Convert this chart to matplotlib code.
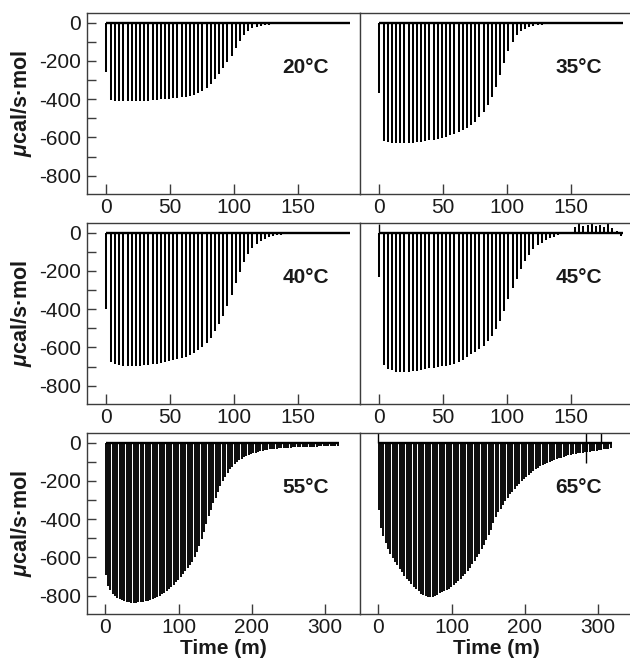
import matplotlib
matplotlib.use('Agg')
import matplotlib.pyplot as plt
import numpy as np

plt.rcParams['font.family'] = ['Liberation Sans', 'DejaVu Sans']
plt.rcParams['axes.unicode_minus'] = False
plt.rcParams['mathtext.fontset'] = 'custom'
plt.rcParams['mathtext.it'] = 'Liberation Sans:italic:bold'
plt.rcParams['mathtext.rm'] = 'Liberation Sans:bold'

# ---------------- data ----------------
panel_labels = ['20°C', '35°C', '40°C', '45°C', '55°C', '65°C']

# injection schedule (min): first (small) injection, then regular injections
first_time = [0.4, 0.5, 0.3, 0.5, 0.5, 0.5]
reg_start = [4.1, 3.9, 4.1, 3.9, 3.7, 3.7]
reg_interval = [3.25, 3.25, 3.25, 3.25, 3.2, 3.2]

# peak heats (ucal/s/mol): first injection then regular injections
heat_20 = [-256,
           -405, -410, -412, -412, -412, -411, -410, -409, -408, -407,
           -405, -403, -401, -399, -397, -395, -392, -389, -386, -382,
           -376, -368, -356, -340, -320, -296, -268, -236, -205, -172,
           -135, -98, -64, -42, -29, -21, -16, -13, -11, -10,
           -9, -8, -8, -7, -7, -6, -6, -6, -5, -5,
           -5, -5, -5, -4, -4, -4, -4, -4]
heat_35 = [-369,
           -620, -626, -629, -630, -630, -630, -629, -627, -625, -622,
           -619, -615, -611, -606, -601, -595, -588, -581, -573, -563,
           -551, -536, -517, -494, -466, -432, -390, -338, -276, -210,
           -150, -102, -66, -44, -31, -23, -18, -14, -12, -10,
           -9, -8, -8, -7, -7, -6, -6, -6, -5, -5,
           -5, -5, -5, -4, -4, -4, -4, -4]
heat_40 = [-399,
           -674, -686, -690, -694, -697, -697, -696, -694, -692, -690,
           -687, -684, -681, -677, -672, -667, -662, -656, -648, -639,
           -630, -615, -596, -575, -548, -515, -478, -433, -382, -327,
           -262, -205, -155, -112, -80, -58, -43, -32, -24, -19,
           -15, -12, -10, -9, -8, -7, -6, -6, -5, -5,
           -5, -5, -4, -4, -4, -4, -4, -4]
heat_45 = [-230,
           -692, -710, -720, -727, -730, -729, -727, -724, -721, -717,
           -713, -709, -705, -701, -698, -695, -691, -685, -677, -664,
           -650, -636, -621, -607, -590, -565, -540, -505, -462, -410,
           -345, -290, -240, -190, -148, -115, -87, -66, -52, -40,
           -30, -21, -14, -10, -8, -5, 30, 45, 35, 40,
           48, 35, 42, 30, 45, 25, 10, -20]
heat_55 = [-690,
           -748, -770, -790, -801, -810, -818, -824, -829, -832, -834,
           -835, -835, -835, -834, -833, -831, -829, -826, -822, -818,
           -812, -806, -799, -792, -784, -775, -765, -755, -743, -730,
           -716, -702, -688, -673, -657, -640, -622, -600, -572, -540,
           -505, -467, -425, -385, -350, -318, -287, -257, -228, -200,
           -180, -160, -140, -127, -114, -101, -92, -84, -77, -71,
           -65, -60, -56, -52, -48, -45, -42, -40, -38, -36,
           -34, -33, -32, -30, -29, -28, -27, -27, -26, -25,
           -25, -24, -24, -23, -23, -22, -22, -21, -21, -21,
           -20, -20, -20, -19, -19, -19, -18, -18, -18]
heat_65 = [-350,
           -445, -488, -525, -556, -580, -602, -622, -641, -660, -678,
           -695, -710, -724, -738, -752, -765, -777, -788, -796, -802,
           -806, -808, -806, -801, -794, -787, -781, -775, -768, -762,
           -754, -745, -735, -724, -712, -698, -684, -669, -653, -636,
           -618, -600, -580, -558, -535, -510, -484, -455, -420, -390,
           -365, -345, -325, -305, -287, -271, -256, -242, -228, -215,
           -202, -190, -178, -167, -157, -148, -139, -131, -124, -117,
           -111, -105, -99, -95, -90, -86, -83, -79, -75, -71,
           -67, -64, -61, -59, -57, -54, -52, -50, -48, -47,
           -45, -44, -42, -40, -38, -36, -34, -32, -30]
heats = [heat_20, heat_35, heat_40, heat_45, heat_55, heat_65]

# baseline artifacts (time, low, high)
artifact_time = {3: [0.2], 5: [0.2, 284.0, 304.5]}
artifact_low = {3: [0], 5: [0, -105, 0]}
artifact_high = {3: [45], 5: [60, 60, 60]}

yticks_major = [0, -200, -400, -600, -800]
yticks_minor = [-100, -300, -500, -700]
xticks_short = [0, 50, 100, 150]
xticks_long = [0, 100, 200, 300]

# ---------------- figure ----------------
W, H = 630, 662
fig = plt.figure(figsize=(W / 100, H / 100), dpi=100)

col_x = [87, 360]
row_top = [13, 223, 433]
ax_w, ax_h = 273, 181
spine_col = '#3c3c3c'

for i in range(6):
    r, c = divmod(i, 2)
    left = col_x[c] / W
    bottom = 1 - (row_top[r] + ax_h) / H
    ax = fig.add_axes([left, bottom, ax_w / W, ax_h / H])

    h = heats[i]
    times = [first_time[i]] + [reg_start[i] + reg_interval[i] * k for k in range(len(h) - 1)]
    lw = 1.45 if r < 2 else 1.35
    ax.vlines(times, h, 0, colors='black', linewidth=lw)
    ax.plot([times[0], times[-1] + 1.5], [0, 0], color='black', linewidth=1.7,
            solid_capstyle='butt')
    if i in artifact_time:
        ax.vlines(artifact_time[i], artifact_low[i], artifact_high[i],
                  colors='black', linewidth=1.0)

    ax.set_ylim(-895, 50)
    if r < 2:
        ax.set_xlim(-14.6, 198.7)
        ax.set_xticks(xticks_short)
    else:
        ax.set_xlim(-25, 347.8)
        ax.set_xticks(xticks_long)

    for s in ['top', 'bottom', 'left']:
        ax.spines[s].set_color(spine_col)
        ax.spines[s].set_linewidth(1.0)
    ax.spines['right'].set_visible(c == 0)
    ax.spines['right'].set_color(spine_col)

    ax.tick_params(axis='x', direction='in', length=7.5, width=1.0, color=spine_col,
                   labelsize=15, pad=3, labelcolor='#1a1a1a', top=False)
    if c == 0:
        ax.set_yticks(yticks_major)
        ax.set_yticks(yticks_minor, minor=True)
        ax.tick_params(axis='y', which='both', direction='in', length=6.7, width=1.0,
                       color=spine_col, labelsize=15, pad=4.3, labelcolor='#1a1a1a',
                       right=False)
        ax.set_ylabel(r'$\mu$cal/s·mol', fontsize=15.5, fontweight='bold', color='#1a1a1a')
        ax.yaxis.set_label_coords(-0.195, 0.5)
    else:
        ax.set_yticks([])
        ax.tick_params(axis='y', which='both', left=False, labelleft=False)

    if r == 2:
        ax.set_xlabel('Time (m)', fontsize=15, fontweight='bold', color='#1a1a1a')
        ax.xaxis.set_label_coords(0.5, -0.14)
        ax.xaxis.label.set_va('top')

    ax.text(0.887, 0.70, panel_labels[i], transform=ax.transAxes, ha='right',
            va='center', fontsize=15, fontweight='bold', color='#1a1a1a')

fig.savefig('out.png', dpi=100)
